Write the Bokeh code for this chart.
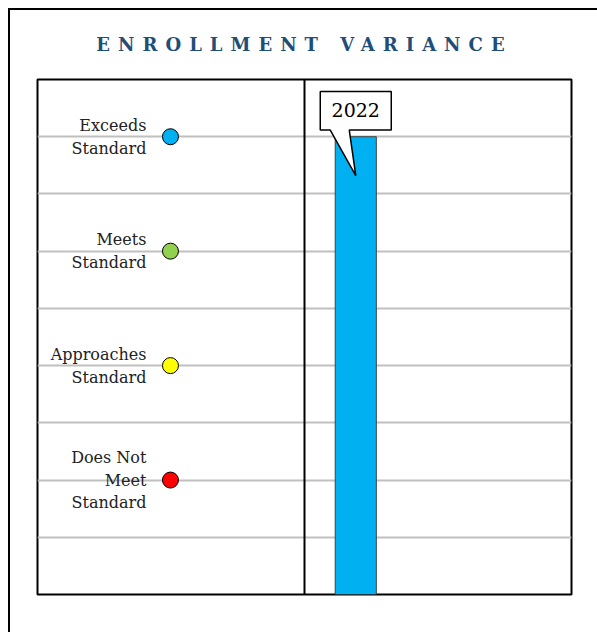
from bokeh.plotting import figure
from bokeh.models import Range1d, Span, FixedTicker, Div, ColumnDataSource, Spacer
from bokeh.layouts import column, row
from bokeh.core.properties import value
from bokeh.embed import file_html
from bokeh.resources import INLINE

# ---- data ----
title_text = "ENROLLMENT VARIANCE"
levels = ["Exceeds\nStandard", "Meets\nStandard", "Approaches\nStandard", "Does Not\nMeet\nStandard"]
level_values = [4, 3, 2, 1]
level_colors = ["#00b0f0", "#92d050", "#ffff00", "#ff0000"]
years = ["2022"]
year_values = [4]
year_colors = ["#00b0f0"]
grid_ticks = [0.5, 1.0, 1.5, 2.0, 2.5, 3.0, 3.5, 4.0]

# ---- layout constants ----
FRAME_W, FRAME_H = 534, 515
Y_MAX = 4.5
px_x = 1.0 / FRAME_W
px_y = Y_MAX / FRAME_H

marker_x = 0.249
label_x = 0.204
bar_x = [0.596]
bar_w = 0.077

p = figure(width=587, height=560, output_backend="svg", toolbar_location=None,
           x_range=Range1d(0, 1), y_range=Range1d(0, Y_MAX),
           min_border_left=27, min_border_right=26, min_border_top=7, min_border_bottom=38,
           margin=0, styles={"border-left": "2px solid black"})
p.xaxis.visible = False
p.yaxis.visible = False
p.xgrid.visible = False
p.ygrid.ticker = FixedTicker(ticks=grid_ticks)
p.ygrid.grid_line_color = "#c0c0c0"
p.ygrid.grid_line_width = 2
p.outline_line_color = "black"
p.outline_line_width = 2
p.background_fill_color = "white"
p.border_fill_color = "white"

p.add_layout(Span(location=0.5, dimension="height", line_color="black", line_width=2))

# legend levels
p.text(x=[label_x] * len(levels), y=level_values, text=levels,
       text_align="right", text_baseline="middle",
       text_font=value("DejaVu Serif"), text_font_size="16px",
       text_line_height=1.2, text_color="#222222")
p.scatter(x=[marker_x] * len(levels), y=level_values, size=16,
          fill_color=level_colors, line_color="black", line_width=1)

# bars
src = ColumnDataSource(dict(x=bar_x, top=year_values, color=year_colors, label=years))
p.vbar(x="x", top="top", bottom=0, width=bar_w, fill_color="color",
       line_color="#404040", line_width=1, source=src)

# callout
for bx, bt, lab in zip(bar_x, year_values, years):
    x0 = bx - 35.5 * px_x
    x1 = bx + 35.5 * px_x
    yb = bt + 6.7 * px_y
    yt = bt + 45.3 * px_y
    pb1 = bx - 25.5 * px_x
    pb2 = bx - 6.5 * px_x
    tipx = bx
    tipy = bt - 39 * px_y
    xs = [x0, x1, x1, pb2, tipx, pb1, x0]
    ys = [yt, yt, yb, yb, tipy, yb, yb]
    p.patch(xs, ys, fill_color="white", line_color="black", line_width=1.5)
    p.text(x=[bx], y=[bt + 27 * px_y], text=[lab], text_align="center",
           text_baseline="middle", text_font=value("DejaVu Serif"),
           text_font_size="19px", text_color="black")

title = Div(text=f'<div style="width:585px;text-align:center;font-family:\'DejaVu Serif\';'
                 f'font-weight:bold;font-size:18px;letter-spacing:8px;padding-left:4px;'
                 f'color:#1f4e79;padding-top:22px;">{title_text}</div>',
            width=589, height=64, margin=0,
            styles={"border-left": "2px solid black", "border-top": "2px solid black"})

layout = row(Spacer(width=8, height=8, margin=0),
             column(Spacer(width=8, height=8, margin=0), title, p, spacing=0, margin=0),
             spacing=0, margin=0)

open("out.html", "w").write(file_html(layout, INLINE))
